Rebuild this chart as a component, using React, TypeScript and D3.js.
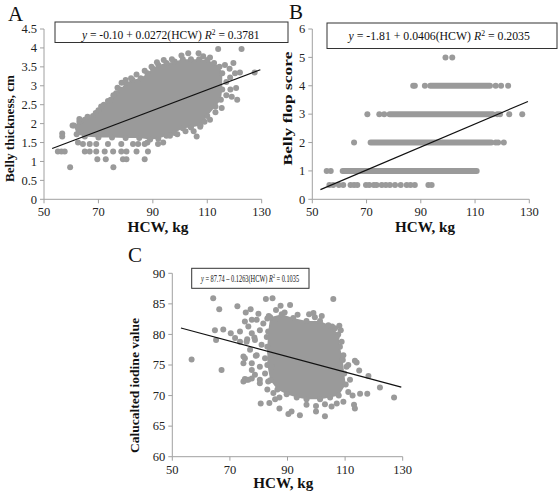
import React, { useLayoutEffect, useRef, useState } from "react";
import * as d3 from "d3";

// ---------- data ----------
const hcwTicks = [50, 70, 90, 110, 130];
const aTicks = [0, 0.5, 1, 1.5, 2, 2.5, 3, 3.5, 4, 4.5];
const bTicks = [0, 1, 2, 3, 4, 5, 6];
const cTicks = [60, 65, 70, 75, 80, 85, 90];

// regression coefficients [intercept, slope], fitted HCW range
const aFit = [-0.1, 0.0272];
const bFit = [-1.81, 0.0406];
const cFit = [87.74, -0.1263];
const fitRange = [53, 129.5];

// Panel A: saturated core (upper edge L->R, lower edge R->L) and separate points
const aCoreUpper = [[61, 1.95], [63, 2.05], [65, 2.1], [68, 2.2], [70, 2.35], [72, 2.5], [74.5, 2.63], [76.5, 2.8], [78, 2.9], [80, 3.07], [82.5, 3.16], [85.5, 3.2], [88, 3.33], [90, 3.45], [92, 3.55], [95, 3.6], [98, 3.64], [101, 3.7], [104, 3.7], [107, 3.7], [110, 3.68], [112.5, 3.6], [114.5, 3.5], [115.5, 3.33]];
const aCoreLower = [[115.5, 2.9], [115, 2.63], [113, 2.45], [110, 2.2], [107.5, 1.95], [104, 1.9], [101, 1.88], [98, 1.75], [95, 1.68], [92, 1.6], [89, 1.58], [85, 1.62], [80, 1.62], [75, 1.63], [70, 1.63], [65, 1.66], [62, 1.72]];
const aPoints = [
  [56.7, 1.74], [56.7, 1.66], [60.5, 1.95], [62.5, 1.5], [63, 2.12], [66, 2.18], [69, 2.28], [71, 2.45], [73.5, 2.6], [75.5, 2.75], [77, 2.95], [78.5, 3.08], [80, 3.15], [82, 3.2], [84, 3.3], [87, 3.4], [89.5, 3.5], [91.5, 3.62], [94, 3.68], [97, 3.7], [100.5, 3.8], [103, 3.86], [106.8, 3.86], [108.5, 3.78], [111, 3.75], [114, 3.97], [122.6, 3.97], [116.5, 3.55], [119.6, 3.6], [118.2, 3.45], [120.2, 3.33], [118.4, 3.22], [117, 3.1], [120.6, 2.94], [118.5, 2.9], [119, 2.71], [121, 2.63], [117, 2.75], [115.3, 2.41], [113, 2.3], [127.4, 3.35], [122, 3.35],
  [111, 2.1], [109, 2.05], [107.4, 1.92], [106.1, 1.66], [105, 1.8], [102, 1.8], [99, 1.72], [96.3, 1.68], [93.8, 1.5], [91.9, 1.46], [88, 1.5], [87, 1.46], [84.6, 1.46], [82.7, 1.46], [78.4, 1.46], [73.5, 1.46], [69.2, 1.46], [66.8, 1.46], [64.3, 1.46],
  [55.1, 1.26], [56.4, 1.26], [57.6, 1.26], [65, 1.26], [66.8, 1.26], [69.2, 1.26], [72.3, 1.26], [75.4, 1.26], [78.4, 1.26], [80.3, 1.26], [84, 1.26], [88.2, 1.26],
  [69.6, 1.06], [72.7, 1.06], [79, 1.06], [80.3, 1.06], [87, 1.06],
  [59.6, 0.85], [75.5, 0.85],
];

// Panel B: dense runs [score, fromHCW, toHCW] and separate points
const bRuns = [[4, 93.5, 115.5], [3, 78.5, 116.5], [2, 71.5, 116], [1, 61.2, 110.6]];
const bPoints = [
  [99.1, 5], [101.6, 5],
  [87.2, 4], [87.8, 4], [91.5, 4], [117.6, 4], [119.6, 4], [122.2, 4],
  [70.3, 3], [74.7, 3], [76.5, 3], [118.2, 3], [119.2, 3], [122.6, 3], [127.4, 3],
  [65.4, 2], [117.6, 2], [118.5, 2], [120.6, 2],
  [55.3, 1], [56.8, 1],
  [56.3, 0.5], [57.7, 0.5], [59.8, 0.5], [61.4, 0.5], [64.1, 0.5], [65.4, 0.5], [66.6, 0.5], [69.8, 0.5], [71, 0.5], [72.7, 0.5], [73.7, 0.5], [75.6, 0.5], [77.1, 0.5], [78.6, 0.5], [80.5, 0.5], [82.6, 0.5], [84.8, 0.5], [86.2, 0.5], [87.8, 0.5], [92.8, 0.5], [94, 0.5],
];

// Panel C: saturated core outline and separate points
const cCore = [[84, 82.8], [88, 83.3], [92, 82.7], [96.6, 82.2], [101.3, 82.2], [105.5, 81.3], [107.6, 80], [108.2, 78], [109.2, 75.8], [109.7, 73.6], [110.2, 71.8], [107.8, 70], [104.8, 69.7], [101.3, 69.4], [96.6, 69.4], [93.2, 69.7], [89.7, 70.2], [86.5, 71], [84, 72.5], [83, 75], [83, 78], [83.3, 80.5]];
const cPoints = [
  [64.2, 85.9], [66.3, 84.1], [72.6, 84.6], [75.5, 83.6], [77.2, 84.1], [79.9, 83.4], [82.5, 85.8], [84.8, 85.9], [87.6, 84.7], [90.9, 84.8], [105.9, 85.8], [56.7, 75.9], [67.1, 74.2], [64.8, 80.7], [67.7, 80.8], [65.2, 79.1], [70.3, 80.2], [71.8, 79.4], [73.5, 80.5], [74.7, 72.3], [75.2, 72.7], [80.7, 68.7], [83.7, 68.8], [85.7, 69.4], [87.2, 69.7], [87.2, 67.9], [90.3, 67], [91.4, 67.4], [94.3, 66.8], [99.9, 68.3], [99.9, 67.4], [103, 66.6], [103, 68.6], [113.1, 68.5], [113.4, 67.9], [112.6, 70], [115.2, 70.3], [117.7, 70.3], [122.1, 71.3], [127, 69.7], [118.1, 73.2], [114.9, 74.1], [113.4, 75.7], [114, 75.4], [111.1, 75], [108, 81.4], [108.5, 80.7], [101.9, 83], [99, 83.5],
  [75.2, 82.1], [77.6, 82.4], [73.5, 78.8], [74.7, 76.4], [74.7, 75.3], [77.6, 74.2], [75.8, 72.6], [77.6, 72.8], [80.4, 72], [83, 71], [85.1, 70.4], [99.5, 82.8], [104.2, 81.5], [106.5, 81], [107.1, 79.6], [108.8, 78.8], [109.4, 76.6], [110.5, 74.7], [111.7, 72.6], [111.1, 70.6], [109.4, 69], [107.1, 68.7], [105.3, 68.2], [96.6, 68.5], [83.5, 83], [86, 84], [89, 83.6], [93.5, 83.2], [97.5, 83.3], [76, 79.2], [78.5, 79.5], [79, 76.5],
  [76.4, 81.3], [77.6, 80.2], [75.8, 78.8], [78.7, 79.1], [80.4, 80.7], [81.6, 81.8], [82.8, 79.6], [77, 77.5], [79.3, 76.6], [75.2, 76.1], [77.6, 75.3], [80.4, 74.7], [82.2, 73.6], [78.7, 73.4], [76.4, 72.6], [80.4, 72.6], [83.3, 72.3], [84.5, 74.7], [83.9, 77.2], [82.2, 76.1], [81, 78.3], [79.3, 82.4], [83, 82.6], [85.7, 82.4],
];

// ---------- drawing ----------
const DOT = "#9a9a9a";
const AXIS = "#a0a0a0";
const SERIF = "'Liberation Serif', 'Times New Roman', serif";

type P = {
  x0: number; x1: number; y0: number; y1: number; yDomain: [number, number];
  yTicks: number[];
};

function Axes({ p, x, y }: { p: P; x: any; y: any }) {
  const ts = { fontFamily: SERIF, fontSize: 12.5 } as React.CSSProperties;
  return (
    <g fill="#222">
      <line x1={p.x0} x2={p.x1} y1={p.y0} y2={p.y0} stroke={AXIS} strokeWidth={1} />
      <line x1={p.x0} x2={p.x0} y1={p.y0} y2={p.y1} stroke={AXIS} strokeWidth={1} />
      {hcwTicks.map((t) => (
        <g key={"x" + t}>
          <line x1={x(t)} x2={x(t)} y1={p.y0} y2={p.y0 + 4} stroke={AXIS} />
          <text x={x(t)} y={p.y0 + 17} textAnchor="middle" style={ts}>{t}</text>
        </g>
      ))}
      {p.yTicks.map((t) => (
        <g key={"y" + t}>
          <line x1={p.x0 - 4} x2={p.x0} y1={y(t)} y2={y(t)} stroke={AXIS} />
          <text x={p.x0 - 7} y={y(t) + 4.2} textAnchor="end" style={ts}>{String(t)}</text>
        </g>
      ))}
    </g>
  );
}

function Equation({ bx, by, bw, bh, tx, ty, tl, fs, a, b, r2, dash }: any) {
  const ref = useRef<SVGTextElement>(null);
  const [k, setK] = useState(1);
  useLayoutEffect(() => {
    if (ref.current) {
      const w = ref.current.getBBox().width;
      if (w > 0) setK(tl / w);
    }
  }, [tl]);
  return (
    <g>
      <rect x={bx} y={by} width={bw} height={bh} fill="white" stroke="#333" strokeWidth={1} />
      <g transform={`translate(${tx},${ty}) scale(${k},1)`}>
        <text ref={ref} x={0} y={0} fill="#111" style={{ fontFamily: SERIF, fontSize: fs }}>
          <tspan fontStyle="italic">y</tspan>
          <tspan>{` = ${a} ${dash} ${b}(HCW) `}</tspan>
          <tspan fontStyle="italic">R</tspan>
          <tspan dy={-4} style={{ fontSize: fs * 0.65 }}>2</tspan>
          <tspan dy={4}>{` = ${r2}`}</tspan>
        </text>
      </g>
    </g>
  );
}

export default function App() {
  const A: P = { x0: 44, x1: 261.7, y0: 199.3, y1: 29, yDomain: [0, 4.5], yTicks: aTicks };
  const B: P = { x0: 312.3, x1: 529.3, y0: 199.3, y1: 29, yDomain: [0, 6], yTicks: bTicks };
  const C: P = { x0: 172.3, x1: 402.7, y0: 456.7, y1: 273.3, yDomain: [60, 90], yTicks: cTicks };

  const sc = (p: P) => ({
    x: d3.scaleLinear().domain([50, 130]).range([p.x0, p.x1]),
    y: d3.scaleLinear().domain(p.yDomain).range([p.y0, p.y1]),
  });
  const sa = sc(A), sb = sc(B), scc = sc(C);
  const R = 3;

  const fitLine = (s: any, f: number[]) =>
    d3.line<number>().x((h) => s.x(h)).y((h) => s.y(f[0] + f[1] * h))(fitRange);

  const area = (s: any, pts: number[][]) =>
    d3.line<number[]>().x((d) => s.x(d[0])).y((d) => s.y(d[1])).curve(d3.curveLinearClosed)(pts);

  const dots = (s: any, pts: number[][], key: string) =>
    pts.map((d, i) => <circle key={key + i} cx={s.x(d[0])} cy={s.y(d[1])} r={R} fill={DOT} />);

  const aCore = [...aCoreUpper, ...aCoreLower];
  const titleBold = (fs: number) => ({ fontFamily: SERIF, fontSize: fs, fontWeight: 700 } as React.CSSProperties);
  const letter = { fontFamily: SERIF, fontSize: 21 } as React.CSSProperties;

  return (
    <svg width={560} height={498} style={{ position: "absolute", left: 0, top: 0, background: "white" }}>
      <rect width={560} height={498} fill="white" />
      {/* Panel A */}
      <Axes p={A} x={sa.x} y={sa.y} />
      <path d={area(sa, aCore) || ""} fill={DOT} stroke="none" />
      {dots(sa, aCoreUpper, "au")}
      {dots(sa, aCoreLower, "al")}
      {dots(sa, aPoints, "ap")}
      <path d={fitLine(sa, aFit) || ""} stroke="#111" strokeWidth={1.2} fill="none" />
      <Equation bx={55} by={22} bw={233} bh={20.5} tx={82} ty={38.5} tl={179} fs={11.5} a="-0.10" dash="+" b="0.0272" r2="0.3781" />

      {/* Panel B */}
      <Axes p={B} x={sb.x} y={sb.y} />
      {bRuns.map((r, i) => (
        <line key={"br" + i} x1={sb.x(r[1])} x2={sb.x(r[2])} y1={sb.y(r[0])} y2={sb.y(r[0])} stroke={DOT} strokeWidth={2 * R} strokeLinecap="round" />
      ))}
      {dots(sb, bPoints, "bp")}
      <path d={fitLine(sb, bFit) || ""} stroke="#111" strokeWidth={1.2} fill="none" />
      <Equation bx={327} by={23} bw={230} bh={25.5} tx={348.5} ty={40} tl={183} fs={11.5} a="-1.81" dash="+" b="0.0406" r2="0.2035" />

      {/* Panel C */}
      <Axes p={C} x={scc.x} y={scc.y} />
      <path d={area(scc, cCore) || ""} fill={DOT} stroke="none" />
      {dots(scc, cCore, "cc")}
      {dots(scc, cPoints, "cp")}
      <path d={fitLine(scc, cFit) || ""} stroke="#111" strokeWidth={1.2} fill="none" />
      <Equation bx={191.7} by={268.3} bw={117.3} bh={20} tx={201} ty={281.7} tl={99} fs={11} a="87.74" dash="–" b="0.1263" r2="0.1035" />

      {/* titles */}
      <g fill="#111">
        <text x={8} y={20.5} style={letter}>A</text>
        <text x={289} y={19} style={letter}>B</text>
        <text x={128} y={261.5} style={letter}>C</text>
        <text x={158} y={232} textAnchor="middle" textLength={61} lengthAdjust="spacingAndGlyphs" style={titleBold(14)}>HCW, kg</text>
        <text x={425} y={232} textAnchor="middle" textLength={60} lengthAdjust="spacingAndGlyphs" style={titleBold(14)}>HCW, kg</text>
        <text x={283.3} y={487.5} textAnchor="middle" textLength={60} lengthAdjust="spacingAndGlyphs" style={titleBold(14)}>HCW, kg</text>
        <text transform="translate(13.5,128.5) rotate(-90)" textAnchor="middle" textLength={107} lengthAdjust="spacingAndGlyphs" style={titleBold(13)}>{"Belly  thickness, cm"}</text>
        <text transform="translate(291.5,108.5) rotate(-90)" textAnchor="middle" textLength={114} lengthAdjust="spacingAndGlyphs" style={titleBold(12.5)}>Belly flop score</text>
        <text transform="translate(138.5,385.5) rotate(-90)" textAnchor="middle" textLength={135} lengthAdjust="spacingAndGlyphs" style={titleBold(13)}>Calucalted iodine value</text>
      </g>
    </svg>
  );
}
